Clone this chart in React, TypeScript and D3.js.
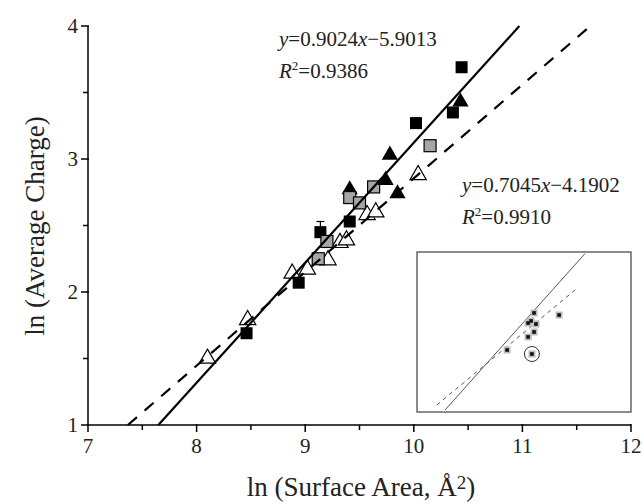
import React, { useEffect, useRef } from 'react';
import * as d3 from 'd3';

// data: [ln surface area, ln average charge]
const blackSquares = [[8.46, 1.69], [8.94, 2.07], [9.14, 2.45], [9.41, 2.53], [10.02, 3.27], [10.36, 3.35], [10.44, 3.69]];
const graySquares = [[9.12, 2.25], [9.20, 2.38], [9.41, 2.71], [9.50, 2.67], [9.63, 2.79], [10.15, 3.10]];
const blackTriangles = [[9.41, 2.77], [9.74, 2.84], [9.78, 3.03], [9.85, 2.74], [10.43, 3.43]];
const whiteTriangles = [[8.10, 1.50], [8.47, 1.79], [8.88, 2.14], [9.02, 2.17], [9.21, 2.24], [9.32, 2.37], [9.38, 2.39], [9.57, 2.58], [9.65, 2.60], [10.04, 2.88]];
const errorBars = [{ x: 9.14, y: 2.45, hi: 2.53 }];

const fitSolid = { slope: 0.9024, icpt: -5.9013, r2: '0.9386' };
const fitDashed = { slope: 0.7045, icpt: -4.1902, r2: '0.9910' };

const xTicks = [7, 8, 9, 10, 11, 12];
const yTicks = [1, 2, 3, 4];
const xMinor = [7.5, 8.5, 9.5, 10.5, 11.5];
const yMinor = [1.5, 2.5, 3.5];

// inset (no axes, relative coordinates)
const insetPoints = [[0.547, 0.619], [0.519, 0.556], [0.533, 0.569], [0.556, 0.55], [0.547, 0.5], [0.519, 0.469], [0.664, 0.606], [0.421, 0.3875], [0.537, 0.3625]];
const insetCircled = [0.537, 0.3625];
const insetSolid = [[0.131, 0.0125], [0.785, 0.99]];
const insetDashed = [[0.093, 0.044], [0.745, 0.77]];

const FONT = '"Liberation Serif", "Times New Roman", serif';

const App = () => {
  const svgRef = useRef<SVGSVGElement>(null);

  useEffect(() => {
    const svg = d3.select(svgRef.current);
    svg.selectAll('*').remove();

    const x = d3.scaleLinear().domain([7, 12]).range([88, 631]);
    const y = d3.scaleLinear().domain([1, 4]).range([425, 26]);

    const marks = svg.append('g');

    // white triangles go under everything
    const tri = d3.symbol().type(d3.symbolTriangle).size(115);
    const sq = 12;

    marks.selectAll('.wt').data(whiteTriangles).enter().append('path')
      .attr('d', tri)
      .attr('transform', d => `translate(${x(d[0])},${y(d[1])})`)
      .attr('fill', '#fff').attr('stroke', '#000').attr('stroke-width', 1.2);

    marks.selectAll('.bt1').data(blackTriangles.slice(0, 1)).enter().append('path')
      .attr('d', tri)
      .attr('transform', d => `translate(${x(d[0])},${y(d[1])})`)
      .attr('fill', '#000');

    errorBars.forEach(e => {
      marks.append('line').attr('x1', x(e.x)).attr('x2', x(e.x))
        .attr('y1', y(e.y)).attr('y2', y(e.hi)).attr('stroke', '#000').attr('stroke-width', 1.2);
      marks.append('line').attr('x1', x(e.x) - 4).attr('x2', x(e.x) + 4)
        .attr('y1', y(e.hi)).attr('y2', y(e.hi)).attr('stroke', '#000').attr('stroke-width', 1.2);
    });

    marks.selectAll('.bs').data(blackSquares).enter().append('rect')
      .attr('x', d => x(d[0]) - sq / 2).attr('y', d => y(d[1]) - sq / 2)
      .attr('width', sq).attr('height', sq)
      .attr('fill', '#000');

    marks.selectAll('.gs').data(graySquares).enter().append('rect')
      .attr('x', d => x(d[0]) - sq / 2).attr('y', d => y(d[1]) - sq / 2)
      .attr('width', sq).attr('height', sq)
      .attr('fill', '#a6a6a6').attr('stroke', '#000').attr('stroke-width', 1.2);

    marks.selectAll('.bt').data(blackTriangles.slice(1)).enter().append('path')
      .attr('d', tri)
      .attr('transform', d => `translate(${x(d[0])},${y(d[1])})`)
      .attr('fill', '#000');

    // fit lines, clipped to y in [1,4]
    const fitLine = (f, dash) => {
      const x0 = (1 - f.icpt) / f.slope;
      const x1 = Math.min(12, (4 - f.icpt) / f.slope);
      svg.append('line')
        .attr('x1', x(x0)).attr('y1', y(1))
        .attr('x2', x(x1)).attr('y2', y(f.slope * x1 + f.icpt))
        .attr('stroke', '#000').attr('stroke-width', 2.2)
        .attr('stroke-dasharray', dash);
    };
    fitLine(fitSolid, null);
    fitLine(fitDashed, '12,10');

    // axes
    const ax = svg.append('g').attr('stroke', '#000').attr('stroke-width', 1.5);
    ax.append('line').attr('x1', x(7)).attr('x2', x(12)).attr('y1', y(1)).attr('y2', y(1));
    ax.append('line').attr('x1', x(7)).attr('x2', x(7)).attr('y1', y(1)).attr('y2', y(4));
    xTicks.forEach(t => ax.append('line').attr('x1', x(t)).attr('x2', x(t)).attr('y1', y(1) - 1).attr('y2', y(1) + 7));
    xMinor.forEach(t => ax.append('line').attr('x1', x(t)).attr('x2', x(t)).attr('y1', y(1)).attr('y2', y(1) + 5));
    yTicks.forEach(t => ax.append('line').attr('y1', y(t)).attr('y2', y(t)).attr('x1', x(7) + 1).attr('x2', x(7) - 7));
    yMinor.forEach(t => ax.append('line').attr('y1', y(t)).attr('y2', y(t)).attr('x1', x(7)).attr('x2', x(7) - 5));

    const txt = svg.append('g').style('font-family', FONT).attr('fill', '#222');
    xTicks.forEach(t => txt.append('text').attr('x', x(t)).attr('y', y(1) + 28)
      .attr('text-anchor', 'middle').style('font-size', '21px').text(t));
    yTicks.forEach(t => txt.append('text').attr('x', x(7) - 10).attr('y', y(t) + 7)
      .attr('text-anchor', 'end').style('font-size', '21px').text(t));

    const xl = txt.append('text').attr('x', 361).attr('y', 496)
      .attr('text-anchor', 'middle').style('font-size', '27px');
    xl.append('tspan').text('ln (Surface Area, Å');
    xl.append('tspan').attr('dy', -7).style('font-size', '19px').text('2');
    xl.append('tspan').attr('dy', 7).text(')');

    txt.append('text').attr('transform', 'translate(44,226) rotate(-90)')
      .attr('text-anchor', 'middle').style('font-size', '27px').text('ln (Average Charge)');

    // equations
    const eq = (f, ex, ey) => {
      const t1 = txt.append('text').attr('x', ex).attr('y', ey).style('font-size', '21px');
      t1.append('tspan').style('font-style', 'italic').text('y');
      t1.append('tspan').text(`=${f.slope.toFixed(4)}`);
      t1.append('tspan').style('font-style', 'italic').text('x');
      t1.append('tspan').text(`\u2212${Math.abs(f.icpt).toFixed(4)}`);
      const t2 = txt.append('text').attr('x', ex).attr('y', ey + 32).style('font-size', '21px');
      t2.append('tspan').style('font-style', 'italic').text('R');
      t2.append('tspan').attr('dy', -8).style('font-size', '13px').text('2');
      t2.append('tspan').attr('dy', 8).text(`=${f.r2}`);
    };
    eq(fitSolid, 279, 46);
    eq(fitDashed, 462, 192);

    // inset
    const ix = d3.scaleLinear().domain([0, 1]).range([417, 631]);
    const iy = d3.scaleLinear().domain([0, 1]).range([412, 252]);
    const ins = svg.append('g');
    ins.append('rect').attr('x', ix(0)).attr('y', iy(1))
      .attr('width', ix(1) - ix(0)).attr('height', iy(0) - iy(1))
      .attr('fill', '#fff').attr('stroke', '#666').attr('stroke-width', 1.5);
    ins.append('line').attr('x1', ix(insetSolid[0][0])).attr('y1', iy(insetSolid[0][1]))
      .attr('x2', ix(insetSolid[1][0])).attr('y2', iy(insetSolid[1][1]))
      .attr('stroke', '#555').attr('stroke-width', 1);
    ins.append('line').attr('x1', ix(insetDashed[0][0])).attr('y1', iy(insetDashed[0][1]))
      .attr('x2', ix(insetDashed[1][0])).attr('y2', iy(insetDashed[1][1]))
      .attr('stroke', '#555').attr('stroke-width', 1).attr('stroke-dasharray', '4,4');
    ins.selectAll('.ip').data(insetPoints).enter().append('rect')
      .attr('x', d => ix(d[0]) - 3.5).attr('y', d => iy(d[1]) - 3.5)
      .attr('width', 7).attr('height', 7).attr('fill', '#bbb');
    ins.selectAll('.ipc').data(insetPoints).enter().append('rect')
      .attr('x', d => ix(d[0]) - 1.8).attr('y', d => iy(d[1]) - 1.8)
      .attr('width', 3.6).attr('height', 3.6).attr('fill', '#111');
    ins.append('circle').attr('cx', ix(insetCircled[0])).attr('cy', iy(insetCircled[1]))
      .attr('r', 7.5).attr('fill', 'none').attr('stroke', '#333').attr('stroke-width', 1);
  }, []);

  return (
    <svg ref={svgRef} width={643} height={504}
      style={{ position: 'absolute', left: 0, top: 0, background: '#fff' }} />
  );
};

export default App;
